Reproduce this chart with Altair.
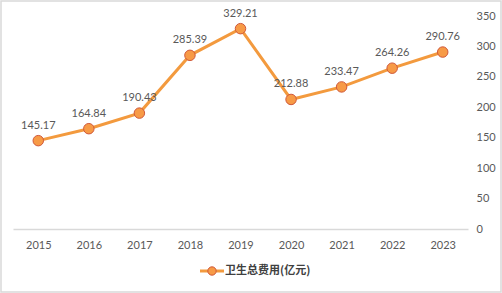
import altair as alt
import pandas as pd

years = ["2015", "2016", "2017", "2018", "2019", "2020", "2021", "2022", "2023"]
values = [145.17, 164.84, 190.43, 285.39, 329.21, 212.88, 233.47, 264.26, 290.76]
series_name = "卫生总费用(亿元)"
y_ticks = [0, 50, 100, 150, 200, 250, 300, 350]

df = pd.DataFrame({"year": years, "value": values, "label": [f"{v:.2f}" for v in values]})

W, H = 455, 213
LINE = "#F39A3E"
FILL = "#F79A46"
EDGE = "#D0583A"
GRAY = "#595959"

x = alt.X("year:N", sort=years, title=None,
          scale=alt.Scale(paddingInner=0, paddingOuter=0),
          axis=alt.Axis(labelAngle=0, ticks=False, domainColor="#D9D9D9", domainWidth=1.5,
                        labelColor=GRAY, labelFontSize=11, labelFont="Lato", labelPadding=10))
y = alt.Y("value:Q", title=None,
          scale=alt.Scale(domain=[0, 350], nice=False),
          axis=alt.Axis(orient="right", values=y_ticks, grid=False, ticks=False, domain=False,
                        labelColor=GRAY, labelFontSize=11, labelFont="Lato", labelPadding=8))

base = alt.Chart(df)
line = base.mark_line(color=LINE, strokeWidth=3).encode(x=x, y=y)
pts = base.mark_point(filled=True, size=110, fill=FILL, stroke=EDGE, strokeWidth=1,
                      opacity=1).encode(x=x, y=y)
labels = base.mark_text(dy=-15, fontSize=11, font="Lato", color=GRAY).encode(
    x=x, y=y, text="label:N")

leg = pd.DataFrame({"name": [series_name]})
leg_rule = alt.Chart(leg).mark_rule(color=LINE, strokeWidth=3).encode(
    x=alt.value(187), x2=alt.value(211), y=alt.value(255))
leg_pt = alt.Chart(leg).mark_point(filled=True, size=70, fill=FILL, stroke=EDGE,
                                   strokeWidth=1, opacity=1).encode(
    x=alt.value(199), y=alt.value(255))
leg_txt = alt.Chart(leg).mark_text(align="left", baseline="middle", fontSize=11,
                                   fontWeight="bold", font="Noto Sans CJK SC",
                                   color="#404040").encode(
    x=alt.value(212), y=alt.value(255), text="name:N")
frame = alt.Chart(leg).mark_rect(fill=None, stroke="#D9D9D9", strokeWidth=1.5).encode(
    x=alt.value(-12), x2=alt.value(488), y=alt.value(-15), y2=alt.value(276))

chart = alt.layer(frame, line, pts, labels, leg_rule, leg_pt, leg_txt).properties(
    width=W, height=H,
    autosize=alt.AutoSizeParams(type="none"),
    padding={"left": 13, "top": 16, "right": 34, "bottom": 64},
    background="white",
).configure_view(stroke=None)

chart.save("out.html", embed_options={"renderer": "svg", "actions": False})
